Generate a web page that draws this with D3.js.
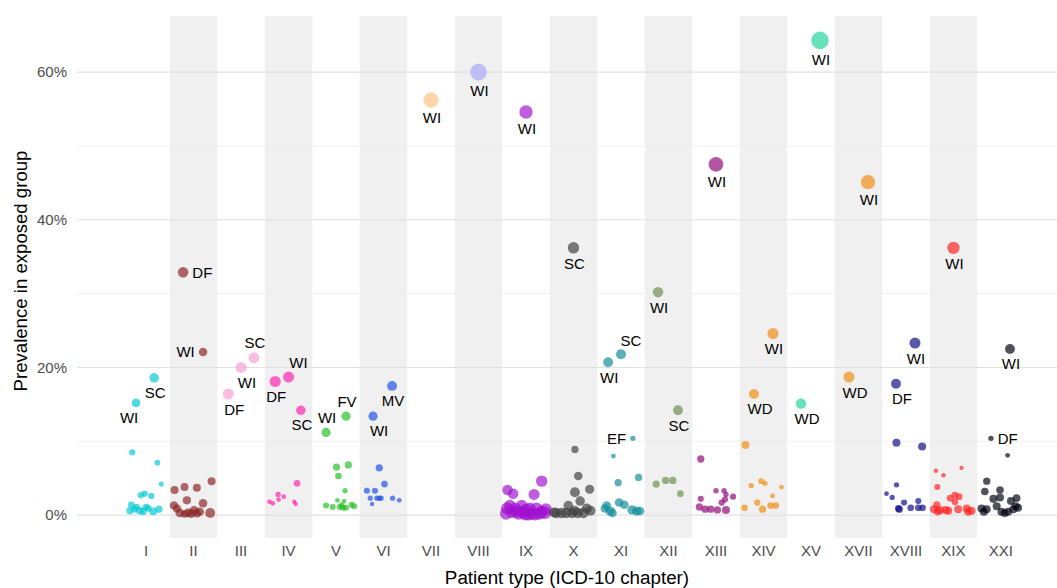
<!DOCTYPE html>
<html>
<head>
<meta charset="utf-8">
<script src="https://cdn.jsdelivr.net/npm/d3@7"></script>
<style>
  body { margin: 0; background: #fff; }
  text { font-family: "Liberation Sans", Arial, Helvetica, sans-serif; }
</style>
</head>
<body>
<script>
// chapters on the x axis
const chapters = ['I', 'II', 'III', 'IV', 'V', 'VI', 'VII', 'VIII', 'IX', 'X', 'XI', 'XII',
                  'XIII', 'XIV', 'XV', 'XVII', 'XVIII', 'XIX', 'XXI'];
const chapterColors = ['#00c8d2', '#8b2323', '#f5a0d5', '#ff20b0', '#22c022', '#1a50e8', '#ffc080',
                       '#a8a8f8', '#a010d0', '#404040', '#0e8a9a', '#6b8e4e', '#900575', '#f08c10',
                       '#20d49a', '#f08c10', '#0a0a85', '#ff2020', '#000010'];

const yTicks = [0, 20, 40, 60];
const yMinor = [10, 30, 50];

// [chapter, jitter (share of band), prevalence %, n, label, label side]
const labelled = [
    ['I', -0.21, 15.2, 160, 'WI', 'bl'],
    ['I', 0.17, 18.6, 202, 'SC', 'b'],
    ['II', -0.22, 32.9, 250, 'DF', 'r'],
    ['II', 0.2, 22.1, 160, 'WI', 'l'],
    ['III', -0.27, 16.4, 281, 'DF', 'br'],
    ['III', 0, 20.0, 281, 'WI', 'br'],
    ['III', 0.27, 21.3, 281, 'SC', 'a'],
    ['IV', -0.28, 18.1, 281, 'DF', 'b'],
    ['IV', 0, 18.7, 281, 'WI', 'ar'],
    ['IV', 0.26, 14.2, 202, 'SC', 'b'],
    ['V', -0.21, 11.2, 185, 'WI', 'a'],
    ['V', 0.21, 13.4, 185, 'FV', 'a'],
    ['VI', -0.22, 13.4, 185, 'WI', 'br'],
    ['VI', 0.18, 17.5, 221, 'MV', 'b'],
    ['VII', 0, 56.2, 562, 'WI', 'b'],
    ['VIII', 0, 60.0, 689, 'WI', 'b'],
    ['IX', 0, 54.6, 422, 'WI', 'b'],
    ['X', 0, 36.2, 302, 'SC', 'b'],
    ['XI', -0.27, 20.7, 221, 'WI', 'b'],
    ['XI', 0, 21.8, 221, 'SC', 'ar'],
    ['XI', 0.25, 10.4, 53, 'EF', 'l'],
    ['XII', -0.22, 30.2, 250, 'WI', 'b'],
    ['XII', 0.2, 14.2, 221, 'SC', 'b'],
    ['XIII', 0, 47.5, 518, 'WI', 'b'],
    ['XIV', 0.2, 24.6, 281, 'WI', 'b'],
    ['XIV', -0.2, 16.4, 221, 'WD', 'br'],
    ['XV', 0.19, 64.3, 757, 'WI', 'b'],
    ['XV', -0.21, 15.1, 250, 'WD', 'br'],
    ['XVII', 0.2, 45.1, 490, 'WI', 'b'],
    ['XVII', -0.2, 18.7, 281, 'WD', 'br'],
    ['XVIII', 0.19, 23.3, 281, 'WI', 'b'],
    ['XVIII', -0.21, 17.8, 221, 'DF', 'br'],
    ['XIX', 0, 36.2, 360, 'WI', 'b'],
    ['XXI', 0.19, 22.5, 221, 'WI', 'b'],
    ['XXI', -0.21, 10.4, 53, 'DF', 'r']
];

// [chapter, jitter, prevalence %, n]
const others = [
    ['I', -0.29, 8.5, 78], ['I', 0.24, 7.1, 62], ['I', 0.32, 4.2, 48], ['I', -0.11, 2.7, 78],
    ['I', -0.03, 2.9, 78], ['I', 0.11, 2.6, 78], ['I', -0.31, 1.4, 90], ['I', -0.2, 1.1, 90],
    ['I', 0, 1.1, 90], ['I', -0.34, 0.6, 109], ['I', -0.13, 0.6, 122], ['I', 0.15, 0.5, 122],
    ['I', 0.27, 0.8, 109], ['I', -0.24, 0.8, 90], ['I', -0.06, 0.5, 109], ['I', 0.05, 0.9, 90],

    ['II', -0.4, 3.4, 137], ['II', -0.19, 3.8, 137], ['II', 0.07, 3.7, 137], ['II', 0.38, 4.6, 137],
    ['II', -0.14, 2.0, 144], ['II', -0.41, 1.3, 160], ['II', 0.2, 1.6, 160], ['II', -0.29, 0.3, 160],
    ['II', -0.12, 0.3, 160], ['II', 0.01, 0.6, 185], ['II', 0.13, 0.45, 160], ['II', 0.35, 0.3, 221],
    ['II', -0.19, 0.15, 122], ['II', -0.05, 0.2, 160], ['II', 0.07, 0.25, 160], ['II', -0.35, 0.9, 137],

    ['IV', 0.18, 4.3, 90], ['IV', -0.22, 2.8, 53], ['IV', -0.1, 2.5, 40], ['IV', -0.21, 2.1, 40],
    ['IV', -0.4, 1.8, 40], ['IV', -0.33, 1.6, 40], ['IV', 0.12, 1.8, 32], ['IV', 0.15, 1.5, 32],

    ['V', 0.01, 6.5, 109], ['V', 0.26, 6.8, 109], ['V', 0.05, 5.3, 90], ['V', 0.19, 3.3, 53],
    ['V', 0.03, 2.0, 40], ['V', 0.17, 1.9, 40], ['V', -0.21, 1.3, 73], ['V', -0.07, 1.1, 73],
    ['V', 0.08, 1.1, 73], ['V', 0.15, 1.0, 73], ['V', 0.33, 1.4, 73], ['V', 0.38, 1.2, 73],
    ['V', 0.21, 1.0, 73], ['V', 0.12, 1.35, 62],

    ['VI', -0.09, 6.4, 109], ['VI', 0.02, 4.2, 90], ['VI', -0.35, 3.3, 73], ['VI', -0.18, 3.3, 73],
    ['VI', -0.28, 2.3, 48], ['VI', -0.14, 2.3, 48], ['VI', -0.09, 2.3, 48], ['VI', -0.05, 2.3, 48],
    ['VI', 0.19, 2.3, 48], ['VI', 0.33, 2.0, 40], ['VI', -0.24, 1.5, 32],

    ['IX', 0.33, 4.6, 300], ['IX', -0.39, 3.4, 250], ['IX', -0.27, 2.9, 250], ['IX', 0.17, 2.8, 280],
    ['IX', -0.4, 0.9, 340], ['IX', -0.3, 0.45, 360], ['IX', -0.16, 0.2, 360], ['IX', -0.09, 1.3, 300],
    ['IX', 0.01, 0.7, 360], ['IX', 0.12, 0.2, 360], ['IX', 0.22, 0.9, 340], ['IX', 0.33, 0.45, 360],
    ['IX', 0.4, 0.3, 360], ['IX', -0.23, 0.9, 320], ['IX', -0.42, 0.2, 340], ['IX', 0.05, 0.1, 360],
    ['IX', 0.42, 0.8, 320], ['IX', 0.19, 0.1, 360], ['IX', -0.06, 0.45, 360], ['IX', -0.34, 1.3, 300],
    ['IX', 0.28, 0.2, 360], ['IX', -0.2, 0.5, 360], ['IX', 0.08, 0.9, 320], ['IX', -0.02, 0.1, 360],

    ['X', 0.03, 8.9, 109], ['X', 0.1, 5.3, 160], ['X', 0.03, 3.1, 221], ['X', 0.34, 3.5, 185],
    ['X', 0.14, 1.9, 202], ['X', -0.11, 1.3, 202], ['X', 0.36, 0.6, 221], ['X', -0.36, 0.3, 250],
    ['X', -0.25, 0.3, 250], ['X', -0.15, 0.3, 250], ['X', -0.03, 0.3, 250], ['X', 0.09, 0.3, 250],
    ['X', 0.21, 0.3, 250], ['X', 0.28, 0.9, 221], ['X', -0.41, 0.35, 221], ['X', 0.02, 0.6, 221],

    ['XI', -0.16, 8.0, 40], ['XI', 0.37, 5.1, 109], ['XI', -0.06, 4.4, 109], ['XI', -0.04, 1.7, 160],
    ['XI', 0.07, 1.4, 160], ['XI', -0.3, 1.3, 160], ['XI', -0.23, 0.55, 185], ['XI', -0.34, 0.9, 160],
    ['XI', 0.23, 0.7, 185], ['XI', 0.33, 0.55, 185], ['XI', 0.4, 0.55, 160], ['XI', -0.18, 0.3, 160],

    ['XII', -0.26, 4.2, 109], ['XII', -0.06, 4.7, 109], ['XII', 0.09, 4.7, 109], ['XII', 0.25, 2.9, 90],

    ['XIII', -0.32, 7.6, 109], ['XIII', 0, 3.3, 53], ['XIII', 0.17, 3.3, 53], ['XIII', 0.21, 2.8, 53],
    ['XIII', 0.36, 2.5, 73], ['XIII', 0.19, 2.1, 73], ['XIII', 0.12, 1.7, 78], ['XIII', -0.32, 2.2, 73],
    ['XIII', -0.35, 1.1, 109], ['XIII', -0.23, 0.8, 109], ['XIII', -0.11, 0.8, 109], ['XIII', 0.03, 0.7, 109],
    ['XIII', 0.21, 0.7, 137],

    ['XIV', -0.38, 9.5, 137], ['XIV', -0.26, 4.0, 53], ['XIV', -0.05, 4.6, 62], ['XIV', 0.03, 4.3, 53],
    ['XIV', 0.38, 3.8, 40], ['XIV', 0.19, 2.6, 40], ['XIV', -0.13, 1.7, 78], ['XIV', -0.4, 1.0, 90],
    ['XIV', -0.02, 0.8, 109], ['XIV', 0.15, 1.3, 90], ['XIV', 0.26, 1.3, 90],

    ['XVIII', -0.2, 9.8, 137], ['XVIII', 0.34, 9.3, 137], ['XVIII', -0.2, 4.1, 53], ['XVIII', -0.41, 2.9, 40],
    ['XVIII', -0.29, 2.4, 48], ['XVIII', -0.04, 1.7, 73], ['XVIII', 0.26, 1.9, 73], ['XVIII', 0.1, 1.0, 90],
    ['XVIII', -0.14, 0.8, 109], ['XVIII', 0.26, 1.0, 90], ['XVIII', 0.35, 1.0, 90], ['XVIII', -0.16, 0.9, 90],

    ['XIX', -0.37, 6.0, 32], ['XIX', -0.21, 5.4, 32], ['XIX', 0.17, 6.4, 32], ['XIX', -0.34, 3.8, 73],
    ['XIX', -0.07, 2.3, 90], ['XIX', 0.03, 2.7, 90], ['XIX', 0.12, 2.5, 90], ['XIX', 0.03, 1.8, 90],
    ['XIX', -0.35, 1.4, 109], ['XIX', -0.41, 0.8, 137], ['XIX', -0.28, 0.7, 137], ['XIX', -0.16, 0.7, 137],
    ['XIX', -0.11, 0.6, 137], ['XIX', 0.1, 0.8, 137], ['XIX', 0.28, 0.9, 137], ['XIX', 0.38, 0.6, 137],
    ['XIX', 0.31, 0.45, 137], ['XIX', -0.33, 0.5, 137],

    ['XXI', 0.14, 8.1, 40], ['XXI', -0.3, 4.6, 109], ['XXI', -0.34, 3.2, 122], ['XXI', -0.02, 3.4, 122],
    ['XXI', -0.16, 2.2, 137], ['XXI', -0.02, 2.4, 137], ['XXI', 0.21, 1.9, 137], ['XXI', 0.33, 2.3, 122],
    ['XXI', 0.36, 1.0, 137], ['XXI', -0.09, 1.2, 137], ['XXI', -0.41, 0.9, 137], ['XXI', -0.3, 0.8, 137],
    ['XXI', -0.36, 0.45, 137], ['XXI', 0.01, 0.45, 137], ['XXI', 0.08, 0.3, 137], ['XXI', 0.26, 0.8, 137],
    ['XXI', 0.31, 1.2, 137], ['XXI', 0.15, 0.45, 137]
];

// svg dimensions
const w = 1057
const h = 588

// panel edges
const pLeft = 77, pRight = 1057, pTop = 16, pBottom = 538

const x = d3.scaleBand()
    .domain(chapters)
    .range([122.3, 1024.7])
    .paddingInner(0)
    .paddingOuter(0);

const y = d3.scaleLinear()
    .domain([-3.1, 67.6])
    .range([pBottom, pTop]);

const r = d3.scaleSqrt()
    .domain([0, 1000])
    .range([0.5, 10]);

const color = d3.scaleOrdinal()
    .domain(chapters)
    .range(chapterColors);

const px = d => x(d[0]) + x.bandwidth() / 2 + d[1] * x.bandwidth();

let svg = d3
    .select('body')
    .append('svg')
    .attr('width', w)
    .attr('height', h);

// alternating shaded bands
svg.append('g')
    .selectAll('rect')
    .data(chapters.filter((c, i) => i % 2 == 1))
    .enter()
    .append('rect')
    .attr('x', d => x(d))
    .attr('y', pTop)
    .attr('width', x.bandwidth())
    .attr('height', pBottom - pTop)
    .attr('fill', '#f0f0f0');

// grid
svg.append('g')
    .selectAll('line')
    .data(yMinor)
    .enter()
    .append('line')
    .attr('x1', pLeft).attr('x2', pRight)
    .attr('y1', d => y(d)).attr('y2', d => y(d))
    .attr('stroke', '#ececec')
    .attr('stroke-width', 0.8);

svg.append('g')
    .selectAll('line')
    .data(yTicks)
    .enter()
    .append('line')
    .attr('x1', pLeft).attr('x2', pRight)
    .attr('y1', d => y(d)).attr('y2', d => y(d))
    .attr('stroke', '#e0e0e0')
    .attr('stroke-width', 1.1);

// y axis
let yAxis = svg.append('g')
    .attr('transform', `translate(${pLeft - 2},0)`)
    .call(d3.axisLeft(y).tickValues(yTicks).tickSize(0).tickPadding(8).tickFormat(d => d + '%'));
yAxis.select('.domain').remove();
yAxis.selectAll('text')
    .attr('font-size', 15)
    .attr('fill', '#4d4d4d')
    .attr('font-family', '"Liberation Sans", Arial, sans-serif');

// x axis
let xAxis = svg.append('g')
    .attr('transform', `translate(0,${pBottom})`)
    .call(d3.axisBottom(x).tickSize(0).tickPadding(7));
xAxis.select('.domain').remove();
xAxis.selectAll('text')
    .attr('font-size', 15)
    .attr('fill', '#4d4d4d')
    .attr('font-family', '"Liberation Sans", Arial, sans-serif');

// axis titles
svg.append('text')
    .attr('x', (pLeft + pRight) / 2)
    .attr('y', 584)
    .attr('text-anchor', 'middle')
    .attr('font-size', 18.8)
    .attr('fill', '#000')
    .text('Patient type (ICD-10 chapter)');

svg.append('text')
    .attr('transform', `translate(27,${(pTop + pBottom) / 2 - 6}) rotate(-90)`)
    .attr('text-anchor', 'middle')
    .attr('font-size', 18.6)
    .attr('fill', '#000')
    .text('Prevalence in exposed group');

// points
svg.append('g')
    .selectAll('circle')
    .data(others.concat(labelled))
    .enter()
    .append('circle')
    .attr('cx', px)
    .attr('cy', d => y(d[2]))
    .attr('r', d => r(d[3]))
    .attr('fill', d => color(d[0]))
    .attr('fill-opacity', 0.68);

// label placement around the point
function labelPos(d) {
    let rr = r(d[3]);
    switch (d[5]) {
        case 'b':  return [1, rr + 10, 'middle'];
        case 'br': return [6, rr + 10, 'middle'];
        case 'bl': return [-7, rr + 10, 'middle'];
        case 'a':  return [1, -(rr + 10), 'middle'];
        case 'ar': return [10, -(rr + 9), 'middle'];
        case 'r':  return [rr + 4, 0, 'start'];
        case 'l':  return [-(rr + 4), 0, 'end'];
    }
}

svg.append('g')
    .selectAll('text')
    .data(labelled)
    .enter()
    .append('text')
    .attr('x', d => px(d) + labelPos(d)[0])
    .attr('y', d => y(d[2]) + labelPos(d)[1])
    .attr('dy', '0.36em')
    .attr('text-anchor', d => labelPos(d)[2])
    .attr('font-size', 15)
    .attr('fill', '#000')
    .text(d => d[4]);
</script>
</body>
</html>
